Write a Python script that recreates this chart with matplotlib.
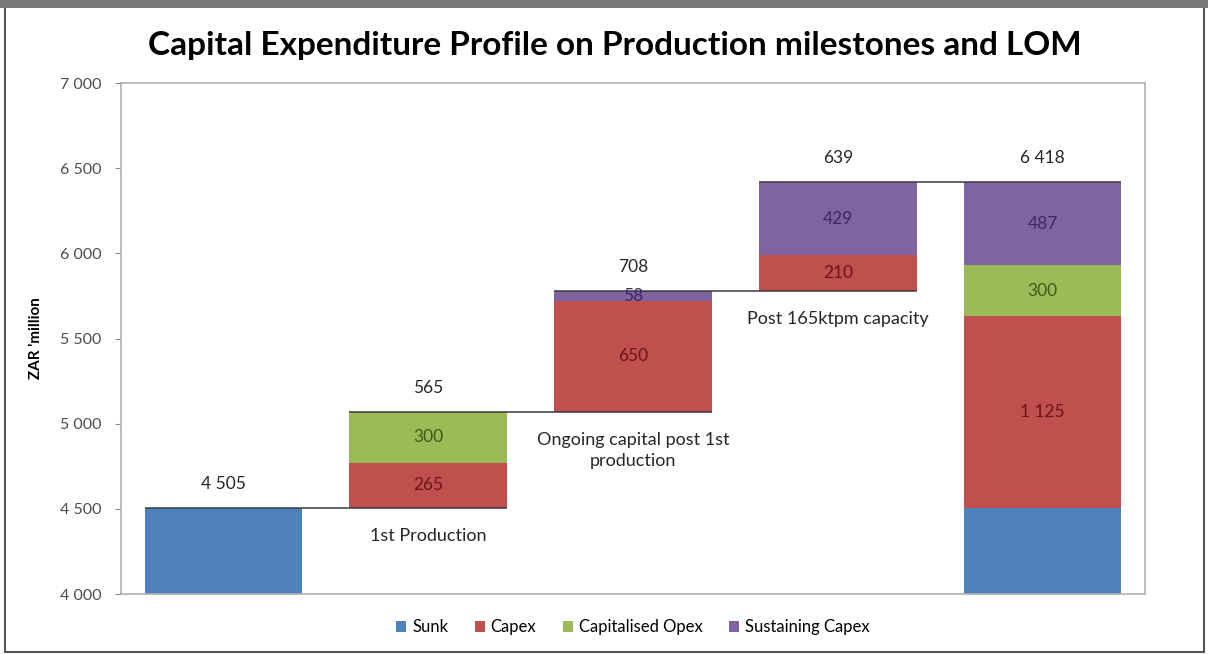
import numpy as np
import matplotlib.pyplot as plt
from matplotlib.patches import Rectangle

plt.rcParams['font.family'] = ['Lato', 'DejaVu Sans']

# categorias del grafico de cascada
categories = ["", "1st Production", "Ongoing capital post 1st\nproduction",
              "Post 165ktpm capacity", ""]

# valores por serie (ZAR millones)
sunk = [4505, 0, 0, 0, 4505]
capex = [0, 265, 650, 210, 1125]
cap_opex = [0, 300, 0, 0, 300]
sustaining = [0, 0, 58, 429, 487]
totals = [4505, 565, 708, 639, 6418]

series_names = ["Sunk", "Capex", "Capitalised Opex", "Sustaining Capex"]
series_vals = [sunk, capex, cap_opex, sustaining]
colors = ["#4F81BD", "#C0504D", "#9BBB59", "#8064A2"]
text_colors = [None, "#6B1513", "#3E5A14", "#3B2866"]

fig = plt.figure(figsize=(12.08, 6.54), dpi=100)
ax = fig.add_axes([0.1002, 0.0917, 0.8476, 0.7813])

x = np.arange(len(categories))
w = 0.77

# base de cada barra flotante: la ultima es el total y arranca en cero
base = []
running = 0
for i in range(len(categories)):
    if i == len(categories) - 1:
        base.append(0)
    else:
        base.append(running)
        running += sum(s[i] for s in series_vals)

bottom = np.array(base, dtype=float)
for name, vals, c, tc in zip(series_names, series_vals, colors, text_colors):
    vals = np.array(vals, dtype=float)
    ax.bar(x, vals, w, bottom=bottom, color=c, label=name, zorder=2)
    if tc is not None:
        for i, v in enumerate(vals):
            if v > 0:
                ax.text(x[i], bottom[i] + v / 2, f"{int(v):,}".replace(",", " "),
                        ha="center", va="center", fontsize=12.5, color=tc, zorder=4)
    bottom = bottom + vals

tops = bottom

# lineas de conexion entre barras
for i in range(len(categories) - 1):
    ax.hlines(tops[i], x[i] - w / 2, x[i + 1] + w / 2, color="#3a3a3a",
              lw=1.1, zorder=3)

# totales encima de cada barra
for i, t in enumerate(totals):
    ax.text(x[i], tops[i] + 95, f"{t:,}".replace(",", " "), ha="center",
            va="bottom", fontsize=12.5, color="#262626")

# nombres de las etapas debajo de las barras flotantes
for i, cat in enumerate(categories):
    if cat:
        ax.text(x[i], base[i] - 118, cat, ha="center", va="top", fontsize=13,
                color="#262626", linespacing=1.4)

ax.set_xlim(-0.5, 4.5)
ax.set_ylim(4000, 7000)
ax.set_yticks(np.arange(4000, 7001, 500))
ax.set_yticklabels([f"{v:,}".replace(",", " ") for v in range(4000, 7001, 500)])
ax.set_xticks([])
ax.tick_params(axis="y", labelsize=11.5, colors="#8a8a8a", labelcolor="#4d4d4d",
               length=4, pad=10)
for s in ax.spines.values():
    s.set_color("#b0b0b0")
    s.set_linewidth(1.2)
ax.set_ylabel("ZAR 'million", fontsize=11, fontweight="bold", labelpad=12)

fig.suptitle("Capital Expenditure Profile on Production milestones and LOM",
             x=0.509, y=0.931, va="center", fontsize=24, fontweight="bold")

ax.legend(loc="upper center", bbox_to_anchor=(0.5, -0.02), ncol=4,
          frameon=False, fontsize=12, handlelength=0.6, handleheight=0.6,
          columnspacing=1.6, handletextpad=0.35)

# marco exterior de la figura
fig.patches.append(Rectangle((0.004, 0.003), 0.993, 0.99, transform=fig.transFigure,
                             fill=False, edgecolor="#555555", lw=1.5))
fig.patches.append(Rectangle((0, 0.988), 1, 0.012, transform=fig.transFigure,
                             color="#7a7a7a", lw=0))

fig.savefig("out.png", dpi=100)
